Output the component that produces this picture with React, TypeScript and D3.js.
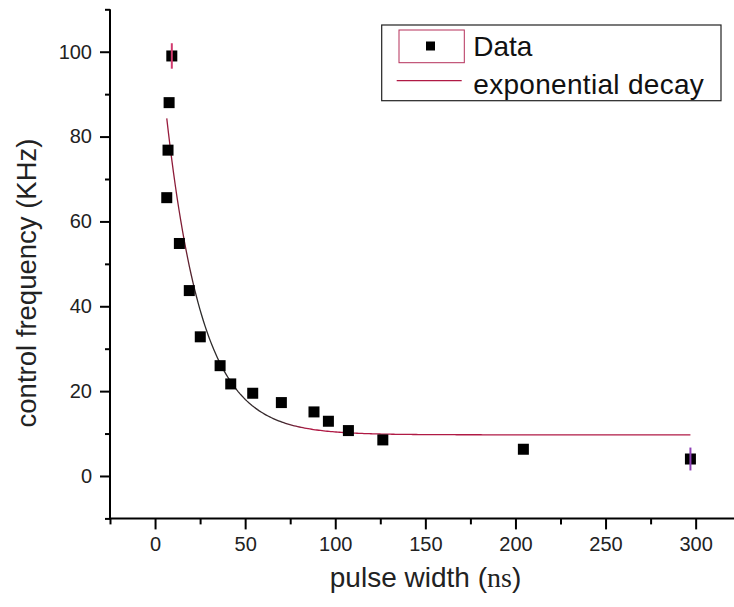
import { useEffect, useRef } from 'react';
import * as d3 from 'd3';

// pulse width (ns) / control frequency (KHz)
const pulseWidth = [9.3, 7.8, 7.2, 6.5, 13.5, 19, 25.1, 36.1, 42, 54.2, 70.1, 88.2, 96.2, 107.3, 126.4, 204.4, 297.1];
const controlFreq = [99, 88, 76.8, 65.6, 54.8, 43.7, 32.8, 26, 21.7, 19.5, 17.3, 15.1, 12.9, 10.7, 8.5, 6.3, 4];
const freqError = [3, 0, 0, 0, 0, 0, 0, 0, 0, 0, 0, 0, 0, 0, 0, 0, 2.7];
const errorColor = ['#d23a6e', '', '', '', '', '', '', '', '', '', '', '', '', '', '', '', '#8d3fb5'];

// exponential decay fit: y = y0 + A * exp(-x / t)
const fitY0 = 9.7;
const fitA = 103.4;
const fitT = 19.9;

const legendLabels = ['Data', 'exponential decay'];

const W = 734;
const H = 607;
const SANS = '"Liberation Sans", Arial, sans-serif';

function App() {
  const svgRef = useRef<SVGSVGElement>(null);

  useEffect(() => {
    const svg = d3.select(svgRef.current);
    svg.selectAll('*').remove();

    const x = d3.scaleLinear().domain([-25, 325]).range([110, 740.7]);
    const y = d3.scaleLinear().domain([-10, 110]).range([518.4, 9.3]);

    const data = pulseWidth.map((p, i) => ({ x: p, y: controlFreq[i], err: freqError[i], c: errorColor[i] }));

    // fit curve over the data range
    const [xmin, xmax] = d3.extent(pulseWidth) as [number, number];
    const fitPts = d3.range(0, 301).map((i) => {
      const xv = xmin + ((xmax - xmin) * i) / 300;
      return [xv, fitY0 + fitA * Math.exp(-xv / fitT)] as [number, number];
    });

    const defs = svg.append('defs');
    const grad = defs
      .append('linearGradient')
      .attr('id', 'fitGrad')
      .attr('gradientUnits', 'userSpaceOnUse')
      .attr('x1', x(0))
      .attr('x2', x(300))
      .attr('y1', 0)
      .attr('y2', 0);
    const frac = (v: number) => (x(v) - x(0)) / (x(300) - x(0));
    const stops: [number, string][] = [
      [0, '#b01a45'],
      [frac(16), '#7a1d33'],
      [frac(24), '#2a2a2a'],
      [frac(70), '#3a2a2e'],
      [frac(85), '#b01a45'],
      [1, '#b01a45'],
    ];
    stops.forEach(([o, c]) => grad.append('stop').attr('offset', o).attr('stop-color', c));

    const line = d3
      .line<[number, number]>()
      .x((d) => x(d[0]))
      .y((d) => y(d[1]));

    svg
      .append('path')
      .attr('d', line(fitPts))
      .attr('fill', 'none')
      .attr('stroke', 'url(#fitGrad)')
      .attr('stroke-width', 1.3);

    // markers
    const ms = 11;
    svg
      .append('g')
      .selectAll('rect')
      .data(data)
      .enter()
      .append('rect')
      .attr('x', (d) => x(d.x) - ms / 2)
      .attr('y', (d) => y(d.y) - ms / 2)
      .attr('width', ms)
      .attr('height', ms)
      .attr('fill', '#000');

    // error bars drawn over the markers
    svg
      .append('g')
      .selectAll('line')
      .data(data.filter((d) => d.err > 0))
      .enter()
      .append('line')
      .attr('x1', (d) => x(d.x))
      .attr('x2', (d) => x(d.x))
      .attr('y1', (d) => y(d.y + d.err))
      .attr('y2', (d) => y(d.y - d.err))
      .attr('stroke', (d) => d.c)
      .attr('stroke-width', 2);

    // axes
    const styleAxis = (g: d3.Selection<SVGGElement, unknown, null, undefined>) => {
      g.select('.domain').remove();
      g.selectAll('line').attr('stroke', '#000').attr('stroke-width', 2);
      g.selectAll('text').attr('fill', '#222').attr('font-family', SANS).attr('font-size', 20);
    };

    const yMinor = d3.range(-10, 111, 20);
    const yMajor = d3.range(0, 101, 20);
    const xMinor = d3.range(-25, 326, 50);
    const xMajor = d3.range(0, 301, 50);

    svg
      .append('g')
      .attr('transform', 'translate(110,0)')
      .call(d3.axisLeft(y).tickValues(yMinor).tickSize(5).tickFormat(() => ''))
      .call(styleAxis);
    svg
      .append('g')
      .attr('transform', 'translate(110,0)')
      .call(d3.axisLeft(y).tickValues(yMajor).tickSize(10).tickPadding(8).tickFormat(d3.format('d')))
      .call(styleAxis);

    svg
      .append('g')
      .attr('transform', 'translate(0,518.4)')
      .call(d3.axisBottom(x).tickValues(xMinor).tickSize(6).tickFormat(() => ''))
      .call(styleAxis);
    svg
      .append('g')
      .attr('transform', 'translate(0,518.4)')
      .call(d3.axisBottom(x).tickValues(xMajor).tickSize(11).tickPadding(7).tickFormat(d3.format('d')))
      .call(styleAxis);

    // axis lines
    svg
      .append('line')
      .attr('x1', 110)
      .attr('x2', 110)
      .attr('y1', y(110))
      .attr('y2', y(-10) + 1)
      .attr('stroke', '#000')
      .attr('stroke-width', 2);
    svg
      .append('line')
      .attr('x1', 109)
      .attr('x2', W)
      .attr('y1', 518.4)
      .attr('y2', 518.4)
      .attr('stroke', '#000')
      .attr('stroke-width', 2);

    // axis titles
    svg
      .append('text')
      .attr('transform', 'translate(35.5,283) rotate(-90)')
      .attr('text-anchor', 'middle')
      .attr('font-family', SANS)
      .attr('font-size', 27.5)
      .attr('fill', '#222')
      .text('control frequency (KHz)');

    const xt = svg
      .append('text')
      .attr('x', 425.5)
      .attr('y', 587)
      .attr('text-anchor', 'middle')
      .attr('font-family', SANS)
      .attr('font-size', 28)
      .attr('fill', '#222');
    xt.append('tspan').text('pulse width (');
    xt.append('tspan').attr('font-family', '"Liberation Serif", "Times New Roman", serif').text('ns');
    xt.append('tspan').text(')');

    // legend
    const lg = svg.append('g');
    lg.append('rect')
      .attr('x', 381.7)
      .attr('y', 25)
      .attr('width', 339.3)
      .attr('height', 75.7)
      .attr('fill', '#fff')
      .attr('stroke', '#222')
      .attr('stroke-width', 1.2);
    lg.append('rect')
      .attr('x', 399)
      .attr('y', 30)
      .attr('width', 65.3)
      .attr('height', 32.7)
      .attr('fill', 'none')
      .attr('stroke', '#b5305a')
      .attr('stroke-width', 1);
    lg.append('rect').attr('x', 426).attr('y', 41.5).attr('width', 9).attr('height', 9).attr('fill', '#000');
    lg.append('line')
      .attr('x1', 396.7)
      .attr('x2', 461.7)
      .attr('y1', 80.7)
      .attr('y2', 80.7)
      .attr('stroke', '#b01a45')
      .attr('stroke-width', 1.3);
    lg.selectAll('text.lab')
      .data(legendLabels)
      .enter()
      .append('text')
      .attr('class', 'lab')
      .attr('x', 473.3)
      .attr('y', (_, i) => (i === 0 ? 56 : 94))
      .attr('font-family', SANS)
      .attr('font-size', 28)
      .attr('letter-spacing', (_, i) => (i === 0 ? 0 : 0.3))
      .attr('fill', '#111')
      .text((d) => d);
  }, []);

  return (
    <div style={{ position: 'absolute', left: 0, top: 0 }}>
      <svg ref={svgRef} width={W} height={H} style={{ display: 'block', background: '#fff' }} />
    </div>
  );
}

export default App;
